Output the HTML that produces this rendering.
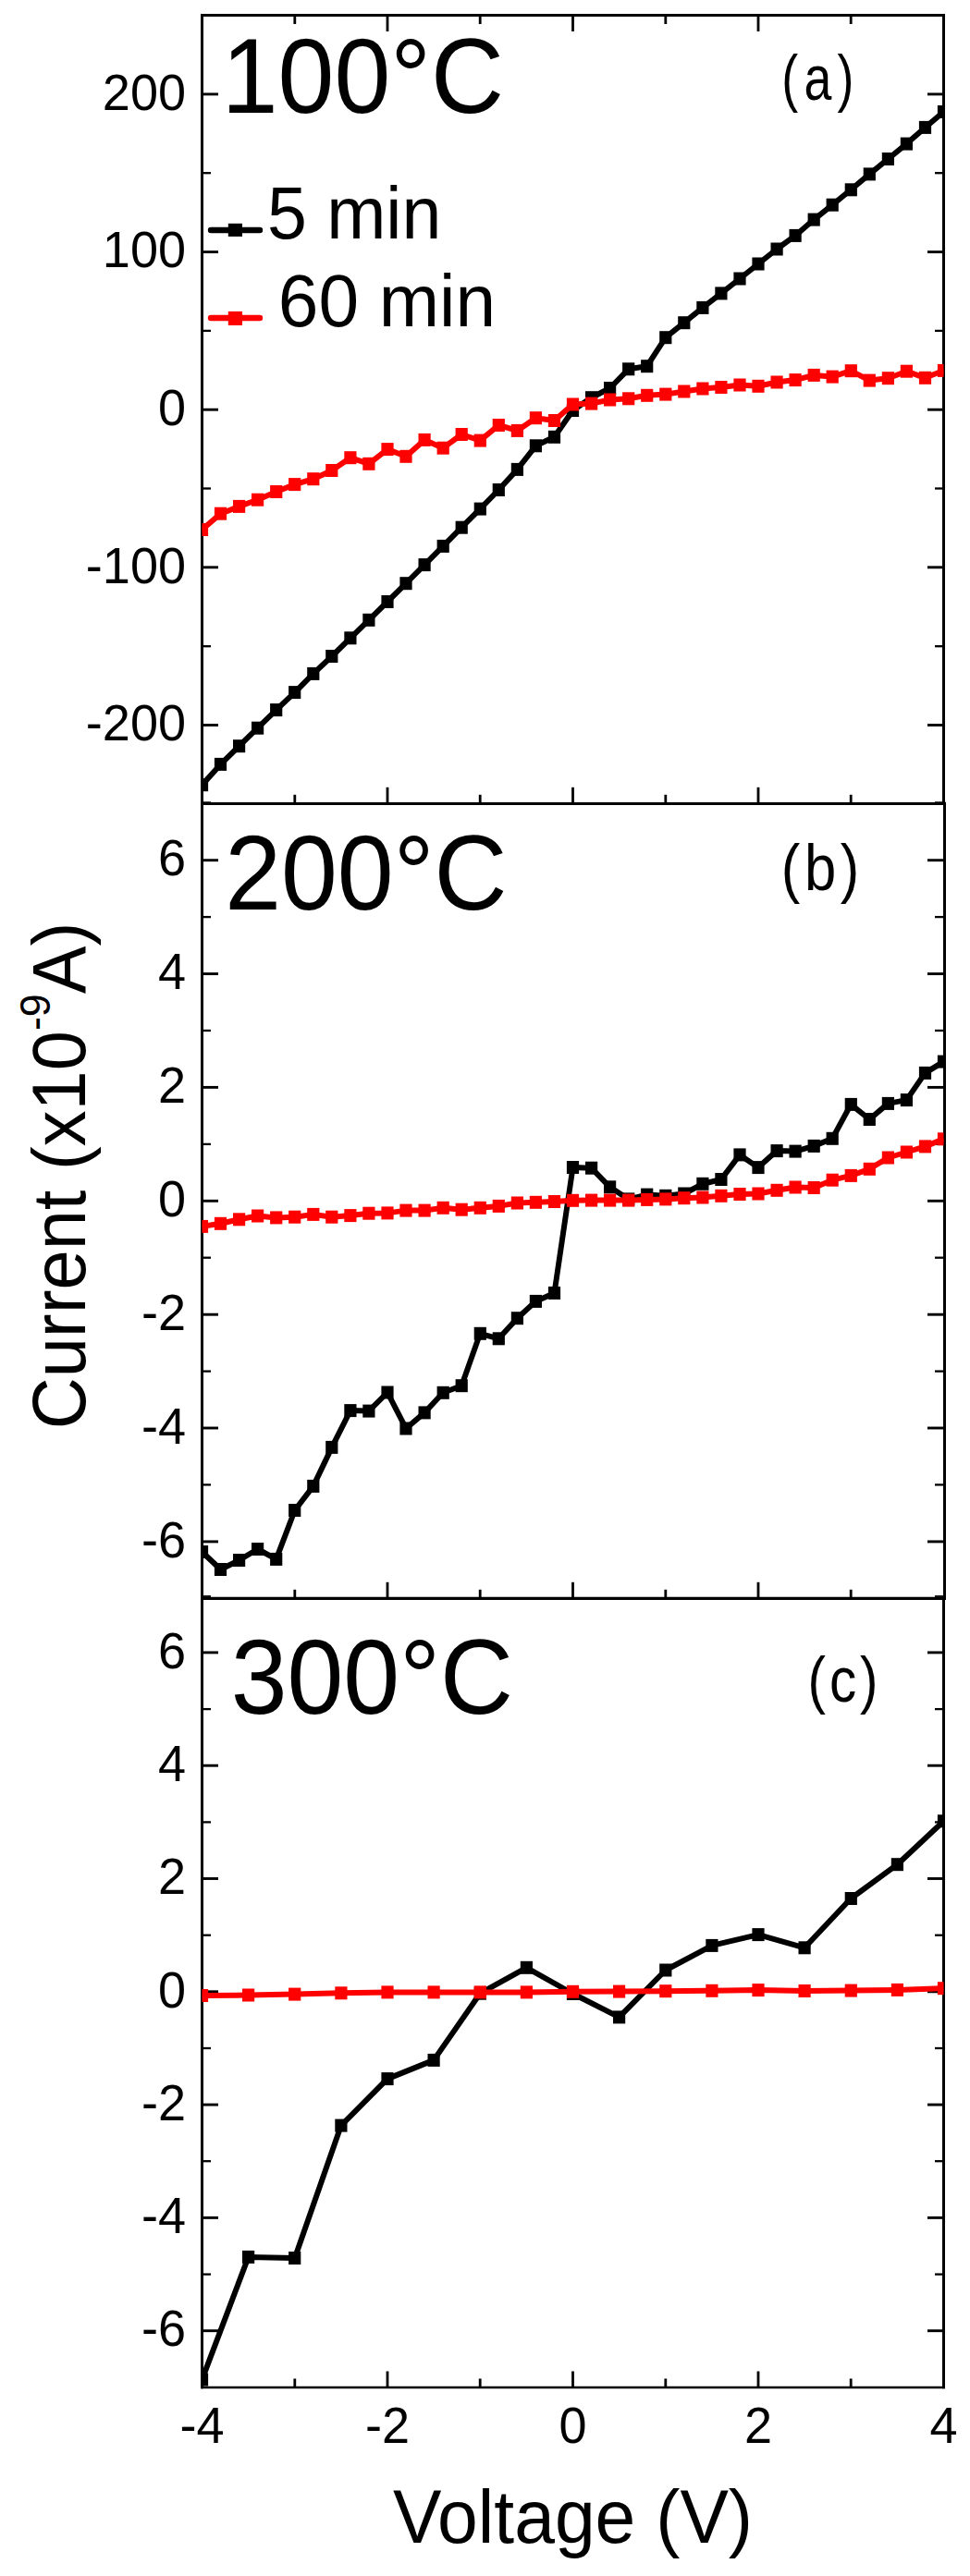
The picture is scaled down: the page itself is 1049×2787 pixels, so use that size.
<!DOCTYPE html>
<html><head><meta charset="utf-8"><title>I-V curves</title>
<style>
html,body{margin:0;padding:0;background:#fff;}
svg{display:block;}
text{font-family:"Liberation Sans",sans-serif;fill:#000;}
</style></head><body>
<svg width="1049" height="2787" viewBox="0 0 1049 2787">
<rect x="0" y="0" width="1049" height="2787" fill="#fff"/>
<defs>
<clipPath id="ca"><rect x="218.5" y="16.5" width="802.0" height="852.8"/></clipPath>
<clipPath id="cb"><rect x="218.5" y="869.3" width="802.0" height="860.0"/></clipPath>
<clipPath id="cc"><rect x="218.5" y="1729.3" width="802.0" height="853.7"/></clipPath>
</defs>
<g stroke="#000" fill="none" stroke-linecap="butt">
<line x1="218.5" y1="15.0" x2="218.5" y2="2584.2" stroke-width="3.0"/>
<line x1="1020.5" y1="15.0" x2="1020.5" y2="869.3" stroke-width="3.0"/>
<line x1="1021.5" y1="867.8" x2="1021.5" y2="1730.8" stroke-width="3.0"/>
<line x1="1020.5" y1="1729.3" x2="1020.5" y2="2584.2" stroke-width="3.0"/>
<line x1="218.5" y1="867.6" x2="228.0" y2="867.6" stroke-width="0.8"/>
<line x1="1020.5" y1="867.6" x2="1011.0" y2="867.6" stroke-width="0.8"/>
<line x1="218.5" y1="1727.0" x2="228.0" y2="1727.0" stroke-width="1.8"/>
<line x1="1020.5" y1="1727.0" x2="1011.0" y2="1727.0" stroke-width="1.8"/>
<line x1="217.0" y1="16.5" x2="1022.0" y2="16.5" stroke-width="3"/>
<line x1="217.0" y1="869.5" x2="1023.0" y2="869.5" stroke-width="3.2"/>
<line x1="217.0" y1="1729.4" x2="1023.0" y2="1729.4" stroke-width="3.2"/>
<line x1="217.0" y1="2583.0" x2="1022.0" y2="2583.0" stroke-width="2.4"/>
<line x1="318.8" y1="869.3" x2="318.8" y2="859.8" stroke-width="2.8"/>
<line x1="318.8" y1="1729.3" x2="318.8" y2="1719.8" stroke-width="2.8"/>
<line x1="318.8" y1="2583.0" x2="318.8" y2="2573.5" stroke-width="2.8"/>
<line x1="318.8" y1="16.5" x2="318.8" y2="26.0" stroke-width="2.8"/>
<line x1="419.0" y1="869.3" x2="419.0" y2="851.8" stroke-width="2.8"/>
<line x1="419.0" y1="1729.3" x2="419.0" y2="1711.8" stroke-width="2.8"/>
<line x1="419.0" y1="2583.0" x2="419.0" y2="2565.5" stroke-width="2.8"/>
<line x1="419.0" y1="16.5" x2="419.0" y2="34.0" stroke-width="2.8"/>
<line x1="519.2" y1="869.3" x2="519.2" y2="859.8" stroke-width="2.8"/>
<line x1="519.2" y1="1729.3" x2="519.2" y2="1719.8" stroke-width="2.8"/>
<line x1="519.2" y1="2583.0" x2="519.2" y2="2573.5" stroke-width="2.8"/>
<line x1="519.2" y1="16.5" x2="519.2" y2="26.0" stroke-width="2.8"/>
<line x1="619.5" y1="869.3" x2="619.5" y2="851.8" stroke-width="2.8"/>
<line x1="619.5" y1="1729.3" x2="619.5" y2="1711.8" stroke-width="2.8"/>
<line x1="619.5" y1="2583.0" x2="619.5" y2="2565.5" stroke-width="2.8"/>
<line x1="619.5" y1="16.5" x2="619.5" y2="34.0" stroke-width="2.8"/>
<line x1="719.8" y1="869.3" x2="719.8" y2="859.8" stroke-width="2.8"/>
<line x1="719.8" y1="1729.3" x2="719.8" y2="1719.8" stroke-width="2.8"/>
<line x1="719.8" y1="2583.0" x2="719.8" y2="2573.5" stroke-width="2.8"/>
<line x1="719.8" y1="16.5" x2="719.8" y2="26.0" stroke-width="2.8"/>
<line x1="820.0" y1="869.3" x2="820.0" y2="851.8" stroke-width="2.8"/>
<line x1="820.0" y1="1729.3" x2="820.0" y2="1711.8" stroke-width="2.8"/>
<line x1="820.0" y1="2583.0" x2="820.0" y2="2565.5" stroke-width="2.8"/>
<line x1="820.0" y1="16.5" x2="820.0" y2="34.0" stroke-width="2.8"/>
<line x1="920.2" y1="869.3" x2="920.2" y2="859.8" stroke-width="2.8"/>
<line x1="920.2" y1="1729.3" x2="920.2" y2="1719.8" stroke-width="2.8"/>
<line x1="920.2" y1="2583.0" x2="920.2" y2="2573.5" stroke-width="2.8"/>
<line x1="920.2" y1="16.5" x2="920.2" y2="26.0" stroke-width="2.8"/>
<line x1="218.5" y1="784.5" x2="236.0" y2="784.5" stroke-width="2.9"/>
<line x1="1020.5" y1="784.5" x2="1003.0" y2="784.5" stroke-width="2.9"/>
<line x1="218.5" y1="699.2" x2="228.0" y2="699.2" stroke-width="2.3"/>
<line x1="1020.5" y1="699.2" x2="1011.0" y2="699.2" stroke-width="2.3"/>
<line x1="218.5" y1="613.8" x2="236.0" y2="613.8" stroke-width="2.9"/>
<line x1="1020.5" y1="613.8" x2="1003.0" y2="613.8" stroke-width="2.9"/>
<line x1="218.5" y1="528.5" x2="228.0" y2="528.5" stroke-width="2.3"/>
<line x1="1020.5" y1="528.5" x2="1011.0" y2="528.5" stroke-width="2.3"/>
<line x1="218.5" y1="443.2" x2="236.0" y2="443.2" stroke-width="2.9"/>
<line x1="1020.5" y1="443.2" x2="1003.0" y2="443.2" stroke-width="2.9"/>
<line x1="218.5" y1="357.9" x2="228.0" y2="357.9" stroke-width="2.3"/>
<line x1="1020.5" y1="357.9" x2="1011.0" y2="357.9" stroke-width="2.3"/>
<line x1="218.5" y1="272.6" x2="236.0" y2="272.6" stroke-width="2.9"/>
<line x1="1020.5" y1="272.6" x2="1003.0" y2="272.6" stroke-width="2.9"/>
<line x1="218.5" y1="187.2" x2="228.0" y2="187.2" stroke-width="2.3"/>
<line x1="1020.5" y1="187.2" x2="1011.0" y2="187.2" stroke-width="2.3"/>
<line x1="218.5" y1="101.9" x2="236.0" y2="101.9" stroke-width="2.9"/>
<line x1="1020.5" y1="101.9" x2="1003.0" y2="101.9" stroke-width="2.9"/>
<line x1="218.5" y1="1667.9" x2="236.0" y2="1667.9" stroke-width="2.9"/>
<line x1="1020.5" y1="1667.9" x2="1003.0" y2="1667.9" stroke-width="2.9"/>
<line x1="218.5" y1="2521.7" x2="236.0" y2="2521.7" stroke-width="2.9"/>
<line x1="1020.5" y1="2521.7" x2="1003.0" y2="2521.7" stroke-width="2.9"/>
<line x1="218.5" y1="1606.4" x2="228.0" y2="1606.4" stroke-width="2.3"/>
<line x1="1020.5" y1="1606.4" x2="1011.0" y2="1606.4" stroke-width="2.3"/>
<line x1="218.5" y1="2460.6" x2="228.0" y2="2460.6" stroke-width="2.3"/>
<line x1="1020.5" y1="2460.6" x2="1011.0" y2="2460.6" stroke-width="2.3"/>
<line x1="218.5" y1="1545.0" x2="236.0" y2="1545.0" stroke-width="2.9"/>
<line x1="1020.5" y1="1545.0" x2="1003.0" y2="1545.0" stroke-width="2.9"/>
<line x1="218.5" y1="2399.4" x2="236.0" y2="2399.4" stroke-width="2.9"/>
<line x1="1020.5" y1="2399.4" x2="1003.0" y2="2399.4" stroke-width="2.9"/>
<line x1="218.5" y1="1483.6" x2="228.0" y2="1483.6" stroke-width="2.3"/>
<line x1="1020.5" y1="1483.6" x2="1011.0" y2="1483.6" stroke-width="2.3"/>
<line x1="218.5" y1="2338.2" x2="228.0" y2="2338.2" stroke-width="2.3"/>
<line x1="1020.5" y1="2338.2" x2="1011.0" y2="2338.2" stroke-width="2.3"/>
<line x1="218.5" y1="1422.2" x2="236.0" y2="1422.2" stroke-width="2.9"/>
<line x1="1020.5" y1="1422.2" x2="1003.0" y2="1422.2" stroke-width="2.9"/>
<line x1="218.5" y1="2277.1" x2="236.0" y2="2277.1" stroke-width="2.9"/>
<line x1="1020.5" y1="2277.1" x2="1003.0" y2="2277.1" stroke-width="2.9"/>
<line x1="218.5" y1="1360.7" x2="228.0" y2="1360.7" stroke-width="2.3"/>
<line x1="1020.5" y1="1360.7" x2="1011.0" y2="1360.7" stroke-width="2.3"/>
<line x1="218.5" y1="2216.0" x2="228.0" y2="2216.0" stroke-width="2.3"/>
<line x1="1020.5" y1="2216.0" x2="1011.0" y2="2216.0" stroke-width="2.3"/>
<line x1="218.5" y1="1299.3" x2="236.0" y2="1299.3" stroke-width="2.9"/>
<line x1="1020.5" y1="1299.3" x2="1003.0" y2="1299.3" stroke-width="2.9"/>
<line x1="218.5" y1="2154.8" x2="236.0" y2="2154.8" stroke-width="2.9"/>
<line x1="1020.5" y1="2154.8" x2="1003.0" y2="2154.8" stroke-width="2.9"/>
<line x1="218.5" y1="1237.9" x2="228.0" y2="1237.9" stroke-width="2.3"/>
<line x1="1020.5" y1="1237.9" x2="1011.0" y2="1237.9" stroke-width="2.3"/>
<line x1="218.5" y1="2093.7" x2="228.0" y2="2093.7" stroke-width="2.3"/>
<line x1="1020.5" y1="2093.7" x2="1011.0" y2="2093.7" stroke-width="2.3"/>
<line x1="218.5" y1="1176.4" x2="236.0" y2="1176.4" stroke-width="2.9"/>
<line x1="1020.5" y1="1176.4" x2="1003.0" y2="1176.4" stroke-width="2.9"/>
<line x1="218.5" y1="2032.5" x2="236.0" y2="2032.5" stroke-width="2.9"/>
<line x1="1020.5" y1="2032.5" x2="1003.0" y2="2032.5" stroke-width="2.9"/>
<line x1="218.5" y1="1115.0" x2="228.0" y2="1115.0" stroke-width="2.3"/>
<line x1="1020.5" y1="1115.0" x2="1011.0" y2="1115.0" stroke-width="2.3"/>
<line x1="218.5" y1="1971.4" x2="228.0" y2="1971.4" stroke-width="2.3"/>
<line x1="1020.5" y1="1971.4" x2="1011.0" y2="1971.4" stroke-width="2.3"/>
<line x1="218.5" y1="1053.6" x2="236.0" y2="1053.6" stroke-width="2.9"/>
<line x1="1020.5" y1="1053.6" x2="1003.0" y2="1053.6" stroke-width="2.9"/>
<line x1="218.5" y1="1910.2" x2="236.0" y2="1910.2" stroke-width="2.9"/>
<line x1="1020.5" y1="1910.2" x2="1003.0" y2="1910.2" stroke-width="2.9"/>
<line x1="218.5" y1="992.1" x2="228.0" y2="992.1" stroke-width="2.3"/>
<line x1="1020.5" y1="992.1" x2="1011.0" y2="992.1" stroke-width="2.3"/>
<line x1="218.5" y1="1849.1" x2="228.0" y2="1849.1" stroke-width="2.3"/>
<line x1="1020.5" y1="1849.1" x2="1011.0" y2="1849.1" stroke-width="2.3"/>
<line x1="218.5" y1="930.7" x2="236.0" y2="930.7" stroke-width="2.9"/>
<line x1="1020.5" y1="930.7" x2="1003.0" y2="930.7" stroke-width="2.9"/>
<line x1="218.5" y1="1787.9" x2="236.0" y2="1787.9" stroke-width="2.9"/>
<line x1="1020.5" y1="1787.9" x2="1003.0" y2="1787.9" stroke-width="2.9"/>
</g>
<g clip-path="url(#ca)">
<polyline fill="none" stroke="#000" stroke-width="6.0" stroke-linejoin="round" points="218.5,849.2 238.6,826.9 258.6,807.2 278.6,787.7 298.7,768.1 318.8,749.1 338.8,728.9 358.9,710.0 378.9,690.3 398.9,670.8 419.0,651.0 439.1,631.2 459.1,611.1 479.2,590.9 499.2,570.7 519.2,550.6 539.3,530.0 559.4,507.9 579.4,482.3 599.5,472.8 619.5,444.0 639.5,430.2 659.6,420.0 679.7,399.3 699.7,396.2 719.8,365.2 739.8,349.2 759.9,332.9 779.9,317.4 800.0,301.5 820.0,285.5 840.1,269.5 860.1,254.9 880.2,237.6 900.2,221.7 920.2,205.3 940.3,188.4 960.4,172.0 980.4,155.6 1000.5,137.9 1020.5,121.0"/>
<rect x="211.9" y="842.2" width="13.2" height="14.0" fill="#000"/><rect x="231.9" y="819.9" width="13.2" height="14.0" fill="#000"/><rect x="252.0" y="800.2" width="13.2" height="14.0" fill="#000"/><rect x="272.0" y="780.7" width="13.2" height="14.0" fill="#000"/><rect x="292.1" y="761.1" width="13.2" height="14.0" fill="#000"/><rect x="312.1" y="742.1" width="13.2" height="14.0" fill="#000"/><rect x="332.2" y="721.9" width="13.2" height="14.0" fill="#000"/><rect x="352.2" y="703.0" width="13.2" height="14.0" fill="#000"/><rect x="372.3" y="683.3" width="13.2" height="14.0" fill="#000"/><rect x="392.3" y="663.8" width="13.2" height="14.0" fill="#000"/><rect x="412.4" y="644.0" width="13.2" height="14.0" fill="#000"/><rect x="432.4" y="624.2" width="13.2" height="14.0" fill="#000"/><rect x="452.5" y="604.1" width="13.2" height="14.0" fill="#000"/><rect x="472.6" y="583.9" width="13.2" height="14.0" fill="#000"/><rect x="492.6" y="563.7" width="13.2" height="14.0" fill="#000"/><rect x="512.7" y="543.6" width="13.2" height="14.0" fill="#000"/><rect x="532.7" y="523.0" width="13.2" height="14.0" fill="#000"/><rect x="552.8" y="500.9" width="13.2" height="14.0" fill="#000"/><rect x="572.8" y="475.3" width="13.2" height="14.0" fill="#000"/><rect x="592.9" y="465.8" width="13.2" height="14.0" fill="#000"/><rect x="612.9" y="437.0" width="13.2" height="14.0" fill="#000"/><rect x="633.0" y="423.2" width="13.2" height="14.0" fill="#000"/><rect x="653.0" y="413.0" width="13.2" height="14.0" fill="#000"/><rect x="673.1" y="392.3" width="13.2" height="14.0" fill="#000"/><rect x="693.1" y="389.2" width="13.2" height="14.0" fill="#000"/><rect x="713.2" y="358.2" width="13.2" height="14.0" fill="#000"/><rect x="733.2" y="342.2" width="13.2" height="14.0" fill="#000"/><rect x="753.3" y="325.9" width="13.2" height="14.0" fill="#000"/><rect x="773.3" y="310.4" width="13.2" height="14.0" fill="#000"/><rect x="793.4" y="294.5" width="13.2" height="14.0" fill="#000"/><rect x="813.4" y="278.5" width="13.2" height="14.0" fill="#000"/><rect x="833.5" y="262.5" width="13.2" height="14.0" fill="#000"/><rect x="853.5" y="247.9" width="13.2" height="14.0" fill="#000"/><rect x="873.6" y="230.6" width="13.2" height="14.0" fill="#000"/><rect x="893.6" y="214.7" width="13.2" height="14.0" fill="#000"/><rect x="913.7" y="198.3" width="13.2" height="14.0" fill="#000"/><rect x="933.7" y="181.4" width="13.2" height="14.0" fill="#000"/><rect x="953.8" y="165.0" width="13.2" height="14.0" fill="#000"/><rect x="973.8" y="148.6" width="13.2" height="14.0" fill="#000"/><rect x="993.9" y="130.9" width="13.2" height="14.0" fill="#000"/><rect x="1013.9" y="114.0" width="13.2" height="14.0" fill="#000"/>
<polyline fill="none" stroke="#f00" stroke-width="6.0" stroke-linejoin="round" points="218.5,573.0 238.6,555.7 258.6,547.9 278.6,540.7 298.7,532.0 318.8,524.1 338.8,518.2 358.9,509.0 378.9,495.2 398.9,501.8 419.0,486.1 439.1,493.8 459.1,475.9 479.2,484.7 499.2,470.0 519.2,476.6 539.3,460.0 559.4,465.9 579.4,452.2 599.5,455.0 619.5,437.5 639.5,436.6 659.6,432.5 679.7,431.3 699.7,427.8 719.8,426.6 739.8,423.5 759.9,420.5 779.9,419.0 800.0,416.5 820.0,417.8 840.1,413.5 860.1,411.1 880.2,405.9 900.2,407.6 920.2,401.2 940.3,411.6 960.4,409.2 980.4,401.7 1000.5,408.8 1020.5,400.9"/>
<rect x="211.9" y="566.0" width="13.2" height="14.0" fill="#f00"/><rect x="231.9" y="548.7" width="13.2" height="14.0" fill="#f00"/><rect x="252.0" y="540.9" width="13.2" height="14.0" fill="#f00"/><rect x="272.0" y="533.7" width="13.2" height="14.0" fill="#f00"/><rect x="292.1" y="525.0" width="13.2" height="14.0" fill="#f00"/><rect x="312.1" y="517.1" width="13.2" height="14.0" fill="#f00"/><rect x="332.2" y="511.2" width="13.2" height="14.0" fill="#f00"/><rect x="352.2" y="502.0" width="13.2" height="14.0" fill="#f00"/><rect x="372.3" y="488.2" width="13.2" height="14.0" fill="#f00"/><rect x="392.3" y="494.8" width="13.2" height="14.0" fill="#f00"/><rect x="412.4" y="479.1" width="13.2" height="14.0" fill="#f00"/><rect x="432.4" y="486.8" width="13.2" height="14.0" fill="#f00"/><rect x="452.5" y="468.9" width="13.2" height="14.0" fill="#f00"/><rect x="472.6" y="477.7" width="13.2" height="14.0" fill="#f00"/><rect x="492.6" y="463.0" width="13.2" height="14.0" fill="#f00"/><rect x="512.7" y="469.6" width="13.2" height="14.0" fill="#f00"/><rect x="532.7" y="453.0" width="13.2" height="14.0" fill="#f00"/><rect x="552.8" y="458.9" width="13.2" height="14.0" fill="#f00"/><rect x="572.8" y="445.2" width="13.2" height="14.0" fill="#f00"/><rect x="592.9" y="448.0" width="13.2" height="14.0" fill="#f00"/><rect x="612.9" y="430.5" width="13.2" height="14.0" fill="#f00"/><rect x="633.0" y="429.6" width="13.2" height="14.0" fill="#f00"/><rect x="653.0" y="425.5" width="13.2" height="14.0" fill="#f00"/><rect x="673.1" y="424.3" width="13.2" height="14.0" fill="#f00"/><rect x="693.1" y="420.8" width="13.2" height="14.0" fill="#f00"/><rect x="713.2" y="419.6" width="13.2" height="14.0" fill="#f00"/><rect x="733.2" y="416.5" width="13.2" height="14.0" fill="#f00"/><rect x="753.3" y="413.5" width="13.2" height="14.0" fill="#f00"/><rect x="773.3" y="412.0" width="13.2" height="14.0" fill="#f00"/><rect x="793.4" y="409.5" width="13.2" height="14.0" fill="#f00"/><rect x="813.4" y="410.8" width="13.2" height="14.0" fill="#f00"/><rect x="833.5" y="406.5" width="13.2" height="14.0" fill="#f00"/><rect x="853.5" y="404.1" width="13.2" height="14.0" fill="#f00"/><rect x="873.6" y="398.9" width="13.2" height="14.0" fill="#f00"/><rect x="893.6" y="400.6" width="13.2" height="14.0" fill="#f00"/><rect x="913.7" y="394.2" width="13.2" height="14.0" fill="#f00"/><rect x="933.7" y="404.6" width="13.2" height="14.0" fill="#f00"/><rect x="953.8" y="402.2" width="13.2" height="14.0" fill="#f00"/><rect x="973.8" y="394.7" width="13.2" height="14.0" fill="#f00"/><rect x="993.9" y="401.8" width="13.2" height="14.0" fill="#f00"/><rect x="1013.9" y="393.9" width="13.2" height="14.0" fill="#f00"/>
</g>
<g clip-path="url(#cb)">
<polyline fill="none" stroke="#000" stroke-width="6.0" stroke-linejoin="round" points="218.5,1679.0 238.6,1698.0 258.6,1688.0 278.6,1676.0 298.7,1686.9 318.8,1634.0 338.8,1607.9 358.9,1565.9 378.9,1526.1 398.9,1526.6 419.0,1506.5 439.1,1545.5 459.1,1528.4 479.2,1506.8 499.2,1499.2 519.2,1442.8 539.3,1448.3 559.4,1426.2 579.4,1407.9 599.5,1398.9 619.5,1263.0 639.5,1263.7 659.6,1284.3 679.7,1297.4 699.7,1292.6 719.8,1293.8 739.8,1291.5 759.9,1280.8 779.9,1276.0 800.0,1249.4 820.0,1263.1 840.1,1245.1 860.1,1245.6 880.2,1239.9 900.2,1231.8 920.2,1194.9 940.3,1211.0 960.4,1193.9 980.4,1190.1 1000.5,1160.9 1020.5,1148.6"/>
<rect x="211.9" y="1672.0" width="13.2" height="14.0" fill="#000"/><rect x="231.9" y="1691.0" width="13.2" height="14.0" fill="#000"/><rect x="252.0" y="1681.0" width="13.2" height="14.0" fill="#000"/><rect x="272.0" y="1669.0" width="13.2" height="14.0" fill="#000"/><rect x="292.1" y="1679.9" width="13.2" height="14.0" fill="#000"/><rect x="312.1" y="1627.0" width="13.2" height="14.0" fill="#000"/><rect x="332.2" y="1600.9" width="13.2" height="14.0" fill="#000"/><rect x="352.2" y="1558.9" width="13.2" height="14.0" fill="#000"/><rect x="372.3" y="1519.1" width="13.2" height="14.0" fill="#000"/><rect x="392.3" y="1519.6" width="13.2" height="14.0" fill="#000"/><rect x="412.4" y="1499.5" width="13.2" height="14.0" fill="#000"/><rect x="432.4" y="1538.5" width="13.2" height="14.0" fill="#000"/><rect x="452.5" y="1521.4" width="13.2" height="14.0" fill="#000"/><rect x="472.6" y="1499.8" width="13.2" height="14.0" fill="#000"/><rect x="492.6" y="1492.2" width="13.2" height="14.0" fill="#000"/><rect x="512.7" y="1435.8" width="13.2" height="14.0" fill="#000"/><rect x="532.7" y="1441.3" width="13.2" height="14.0" fill="#000"/><rect x="552.8" y="1419.2" width="13.2" height="14.0" fill="#000"/><rect x="572.8" y="1400.9" width="13.2" height="14.0" fill="#000"/><rect x="592.9" y="1391.9" width="13.2" height="14.0" fill="#000"/><rect x="612.9" y="1256.0" width="13.2" height="14.0" fill="#000"/><rect x="633.0" y="1256.7" width="13.2" height="14.0" fill="#000"/><rect x="653.0" y="1277.3" width="13.2" height="14.0" fill="#000"/><rect x="673.1" y="1290.4" width="13.2" height="14.0" fill="#000"/><rect x="693.1" y="1285.6" width="13.2" height="14.0" fill="#000"/><rect x="713.2" y="1286.8" width="13.2" height="14.0" fill="#000"/><rect x="733.2" y="1284.5" width="13.2" height="14.0" fill="#000"/><rect x="753.3" y="1273.8" width="13.2" height="14.0" fill="#000"/><rect x="773.3" y="1269.0" width="13.2" height="14.0" fill="#000"/><rect x="793.4" y="1242.4" width="13.2" height="14.0" fill="#000"/><rect x="813.4" y="1256.1" width="13.2" height="14.0" fill="#000"/><rect x="833.5" y="1238.1" width="13.2" height="14.0" fill="#000"/><rect x="853.5" y="1238.6" width="13.2" height="14.0" fill="#000"/><rect x="873.6" y="1232.9" width="13.2" height="14.0" fill="#000"/><rect x="893.6" y="1224.8" width="13.2" height="14.0" fill="#000"/><rect x="913.7" y="1187.9" width="13.2" height="14.0" fill="#000"/><rect x="933.7" y="1204.0" width="13.2" height="14.0" fill="#000"/><rect x="953.8" y="1186.9" width="13.2" height="14.0" fill="#000"/><rect x="973.8" y="1183.1" width="13.2" height="14.0" fill="#000"/><rect x="993.9" y="1153.9" width="13.2" height="14.0" fill="#000"/><rect x="1013.9" y="1141.6" width="13.2" height="14.0" fill="#000"/>
<polyline fill="none" stroke="#f00" stroke-width="6.0" stroke-linejoin="round" points="218.5,1326.9 238.6,1323.8 258.6,1319.3 278.6,1315.5 298.7,1317.4 318.8,1316.7 338.8,1313.9 358.9,1316.7 378.9,1315.1 398.9,1312.7 419.0,1312.4 439.1,1309.6 459.1,1309.6 479.2,1306.8 499.2,1308.7 519.2,1306.8 539.3,1304.9 559.4,1301.5 579.4,1300.8 599.5,1300.0 619.5,1298.8 639.5,1298.6 659.6,1298.6 679.7,1298.6 699.7,1297.9 719.8,1297.4 739.8,1296.2 759.9,1295.5 779.9,1293.8 800.0,1292.0 820.0,1291.5 840.1,1287.8 860.1,1284.5 880.2,1285.0 900.2,1276.7 920.2,1271.9 940.3,1264.8 960.4,1252.5 980.4,1246.5 1000.5,1240.4 1020.5,1232.3"/>
<rect x="211.9" y="1319.9" width="13.2" height="14.0" fill="#f00"/><rect x="231.9" y="1316.8" width="13.2" height="14.0" fill="#f00"/><rect x="252.0" y="1312.3" width="13.2" height="14.0" fill="#f00"/><rect x="272.0" y="1308.5" width="13.2" height="14.0" fill="#f00"/><rect x="292.1" y="1310.4" width="13.2" height="14.0" fill="#f00"/><rect x="312.1" y="1309.7" width="13.2" height="14.0" fill="#f00"/><rect x="332.2" y="1306.9" width="13.2" height="14.0" fill="#f00"/><rect x="352.2" y="1309.7" width="13.2" height="14.0" fill="#f00"/><rect x="372.3" y="1308.1" width="13.2" height="14.0" fill="#f00"/><rect x="392.3" y="1305.7" width="13.2" height="14.0" fill="#f00"/><rect x="412.4" y="1305.4" width="13.2" height="14.0" fill="#f00"/><rect x="432.4" y="1302.6" width="13.2" height="14.0" fill="#f00"/><rect x="452.5" y="1302.6" width="13.2" height="14.0" fill="#f00"/><rect x="472.6" y="1299.8" width="13.2" height="14.0" fill="#f00"/><rect x="492.6" y="1301.7" width="13.2" height="14.0" fill="#f00"/><rect x="512.7" y="1299.8" width="13.2" height="14.0" fill="#f00"/><rect x="532.7" y="1297.9" width="13.2" height="14.0" fill="#f00"/><rect x="552.8" y="1294.5" width="13.2" height="14.0" fill="#f00"/><rect x="572.8" y="1293.8" width="13.2" height="14.0" fill="#f00"/><rect x="592.9" y="1293.0" width="13.2" height="14.0" fill="#f00"/><rect x="612.9" y="1291.8" width="13.2" height="14.0" fill="#f00"/><rect x="633.0" y="1291.6" width="13.2" height="14.0" fill="#f00"/><rect x="653.0" y="1291.6" width="13.2" height="14.0" fill="#f00"/><rect x="673.1" y="1291.6" width="13.2" height="14.0" fill="#f00"/><rect x="693.1" y="1290.9" width="13.2" height="14.0" fill="#f00"/><rect x="713.2" y="1290.4" width="13.2" height="14.0" fill="#f00"/><rect x="733.2" y="1289.2" width="13.2" height="14.0" fill="#f00"/><rect x="753.3" y="1288.5" width="13.2" height="14.0" fill="#f00"/><rect x="773.3" y="1286.8" width="13.2" height="14.0" fill="#f00"/><rect x="793.4" y="1285.0" width="13.2" height="14.0" fill="#f00"/><rect x="813.4" y="1284.5" width="13.2" height="14.0" fill="#f00"/><rect x="833.5" y="1280.8" width="13.2" height="14.0" fill="#f00"/><rect x="853.5" y="1277.5" width="13.2" height="14.0" fill="#f00"/><rect x="873.6" y="1278.0" width="13.2" height="14.0" fill="#f00"/><rect x="893.6" y="1269.7" width="13.2" height="14.0" fill="#f00"/><rect x="913.7" y="1264.9" width="13.2" height="14.0" fill="#f00"/><rect x="933.7" y="1257.8" width="13.2" height="14.0" fill="#f00"/><rect x="953.8" y="1245.5" width="13.2" height="14.0" fill="#f00"/><rect x="973.8" y="1239.5" width="13.2" height="14.0" fill="#f00"/><rect x="993.9" y="1233.4" width="13.2" height="14.0" fill="#f00"/><rect x="1013.9" y="1225.3" width="13.2" height="14.0" fill="#f00"/>
</g>
<g clip-path="url(#cc)">
<polyline fill="none" stroke="#000" stroke-width="6.0" stroke-linejoin="round" points="218.5,2574.5 268.6,2441.9 318.8,2443.0 368.9,2299.6 419.0,2249.1 469.1,2228.9 519.2,2156.7 569.4,2128.8 619.5,2157.0 669.6,2182.4 719.8,2131.5 769.9,2104.9 820.0,2093.1 870.1,2107.3 920.2,2054.0 970.4,2017.2 1020.5,1970.3"/>
<rect x="211.9" y="2567.5" width="13.2" height="14.0" fill="#000"/><rect x="262.0" y="2434.9" width="13.2" height="14.0" fill="#000"/><rect x="312.1" y="2436.0" width="13.2" height="14.0" fill="#000"/><rect x="362.3" y="2292.6" width="13.2" height="14.0" fill="#000"/><rect x="412.4" y="2242.1" width="13.2" height="14.0" fill="#000"/><rect x="462.5" y="2221.9" width="13.2" height="14.0" fill="#000"/><rect x="512.7" y="2149.7" width="13.2" height="14.0" fill="#000"/><rect x="562.8" y="2121.8" width="13.2" height="14.0" fill="#000"/><rect x="612.9" y="2150.0" width="13.2" height="14.0" fill="#000"/><rect x="663.0" y="2175.4" width="13.2" height="14.0" fill="#000"/><rect x="713.2" y="2124.5" width="13.2" height="14.0" fill="#000"/><rect x="763.3" y="2097.9" width="13.2" height="14.0" fill="#000"/><rect x="813.4" y="2086.1" width="13.2" height="14.0" fill="#000"/><rect x="863.5" y="2100.3" width="13.2" height="14.0" fill="#000"/><rect x="913.7" y="2047.0" width="13.2" height="14.0" fill="#000"/><rect x="963.8" y="2010.2" width="13.2" height="14.0" fill="#000"/><rect x="1013.9" y="1963.3" width="13.2" height="14.0" fill="#000"/>
<polyline fill="none" stroke="#f00" stroke-width="6.0" stroke-linejoin="round" points="218.5,2159.0 268.6,2158.5 318.8,2157.6 368.9,2156.3 419.0,2155.4 469.1,2155.4 519.2,2155.4 569.4,2155.4 619.5,2154.8 669.6,2154.6 719.8,2154.2 769.9,2153.8 820.0,2153.1 870.1,2154.0 920.2,2153.6 970.4,2152.9 1020.5,2151.2"/>
<rect x="211.9" y="2152.0" width="13.2" height="14.0" fill="#f00"/><rect x="262.0" y="2151.5" width="13.2" height="14.0" fill="#f00"/><rect x="312.1" y="2150.6" width="13.2" height="14.0" fill="#f00"/><rect x="362.3" y="2149.3" width="13.2" height="14.0" fill="#f00"/><rect x="412.4" y="2148.4" width="13.2" height="14.0" fill="#f00"/><rect x="462.5" y="2148.4" width="13.2" height="14.0" fill="#f00"/><rect x="512.7" y="2148.4" width="13.2" height="14.0" fill="#f00"/><rect x="562.8" y="2148.4" width="13.2" height="14.0" fill="#f00"/><rect x="612.9" y="2147.8" width="13.2" height="14.0" fill="#f00"/><rect x="663.0" y="2147.6" width="13.2" height="14.0" fill="#f00"/><rect x="713.2" y="2147.2" width="13.2" height="14.0" fill="#f00"/><rect x="763.3" y="2146.8" width="13.2" height="14.0" fill="#f00"/><rect x="813.4" y="2146.1" width="13.2" height="14.0" fill="#f00"/><rect x="863.5" y="2147.0" width="13.2" height="14.0" fill="#f00"/><rect x="913.7" y="2146.6" width="13.2" height="14.0" fill="#f00"/><rect x="963.8" y="2145.9" width="13.2" height="14.0" fill="#f00"/><rect x="1013.9" y="2144.2" width="13.2" height="14.0" fill="#f00"/>
</g>
<text transform="translate(201.0,118.6) scale(0.9615,1)" font-size="56.2" text-anchor="end">200</text>
<text transform="translate(201.0,289.2) scale(0.9615,1)" font-size="56.2" text-anchor="end">100</text>
<text transform="translate(201.0,459.9) scale(0.9615,1)" font-size="56.2" text-anchor="end">0</text>
<text transform="translate(201.0,630.5) scale(0.9615,1)" font-size="56.2" text-anchor="end">-100</text>
<text transform="translate(201.0,801.2) scale(0.9615,1)" font-size="56.2" text-anchor="end">-200</text>
<text transform="translate(201.0,947.4) scale(0.9615,1)" font-size="56.2" text-anchor="end">6</text>
<text transform="translate(201.0,1804.6) scale(0.9615,1)" font-size="56.2" text-anchor="end">6</text>
<text transform="translate(201.0,1070.3) scale(0.9615,1)" font-size="56.2" text-anchor="end">4</text>
<text transform="translate(201.0,1926.9) scale(0.9615,1)" font-size="56.2" text-anchor="end">4</text>
<text transform="translate(201.0,1193.1) scale(0.9615,1)" font-size="56.2" text-anchor="end">2</text>
<text transform="translate(201.0,2049.2) scale(0.9615,1)" font-size="56.2" text-anchor="end">2</text>
<text transform="translate(201.0,1316.0) scale(0.9615,1)" font-size="56.2" text-anchor="end">0</text>
<text transform="translate(201.0,2171.5) scale(0.9615,1)" font-size="56.2" text-anchor="end">0</text>
<text transform="translate(201.0,1438.9) scale(0.9615,1)" font-size="56.2" text-anchor="end">-2</text>
<text transform="translate(201.0,2293.8) scale(0.9615,1)" font-size="56.2" text-anchor="end">-2</text>
<text transform="translate(201.0,1561.7) scale(0.9615,1)" font-size="56.2" text-anchor="end">-4</text>
<text transform="translate(201.0,2416.1) scale(0.9615,1)" font-size="56.2" text-anchor="end">-4</text>
<text transform="translate(201.0,1684.6) scale(0.9615,1)" font-size="56.2" text-anchor="end">-6</text>
<text transform="translate(201.0,2538.4) scale(0.9615,1)" font-size="56.2" text-anchor="end">-6</text>
<text transform="translate(218.5,2642.9) scale(0.9615,1)" font-size="56.2" text-anchor="middle">-4</text>
<text transform="translate(419.0,2642.9) scale(0.9615,1)" font-size="56.2" text-anchor="middle">-2</text>
<text transform="translate(619.5,2642.9) scale(0.9615,1)" font-size="56.2" text-anchor="middle">0</text>
<text transform="translate(820.0,2642.9) scale(0.9615,1)" font-size="56.2" text-anchor="middle">2</text>
<text transform="translate(1020.5,2642.9) scale(0.9615,1)" font-size="56.2" text-anchor="middle">4</text>
<text transform="translate(239.8,122.4) scale(0.9560,1)" font-size="114.4" text-anchor="start">100°C</text>
<text transform="translate(243.2,984.0) scale(0.9560,1)" font-size="114.4" text-anchor="start">200°C</text>
<text transform="translate(249.7,1854.2) scale(0.9560,1)" font-size="114.4" text-anchor="start">300°C</text>
<text transform="translate(845.2,107.7) scale(0.79,1)" font-size="68" letter-spacing="8">(a)</text>
<text transform="translate(844.8,962.8) scale(0.88,1)" font-size="70" letter-spacing="5.2">(b)</text>
<text transform="translate(873.6,1841.2) scale(0.86,1)" font-size="68" letter-spacing="4.5">(c)</text>
<text transform="translate(289.0,257.8) scale(0.9615,1)" font-size="80.1" text-anchor="start">5 min</text>
<text transform="translate(300.8,353.0) scale(0.9790,1)" font-size="80.1" text-anchor="start">60 min</text>
<line x1="228.1" y1="249" x2="280.9" y2="249" stroke="#000" stroke-width="6.6" stroke-linecap="round"/>
<rect x="246.8" y="241.8" width="15.2" height="14.1" fill="#000"/>
<line x1="228.1" y1="344" x2="280.9" y2="344" stroke="#f00" stroke-width="6.6" stroke-linecap="round"/>
<rect x="246.8" y="336.9" width="15.2" height="15.1" fill="#f00"/>
<text transform="translate(619.5,2751.0) scale(0.9700,1)" font-size="81.1" text-anchor="middle">Voltage (V)</text>
<text transform="translate(91.9,1272) rotate(-90) scale(0.9570,1)" font-size="81.1" text-anchor="middle">Current (x10<tspan font-size="46.8" dy="-37.7">-9</tspan><tspan dy="37.7">A)</tspan></text>
</svg>
</body></html>
